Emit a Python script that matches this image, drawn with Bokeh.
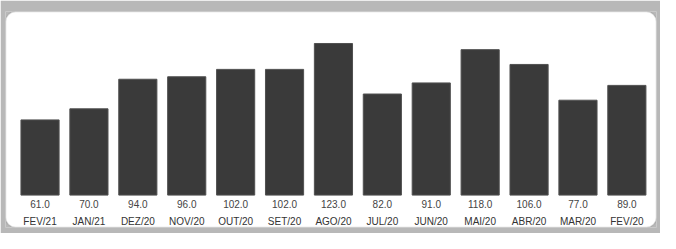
from bokeh.plotting import figure
from bokeh.models import Range1d, ColumnDataSource, BoxAnnotation
from bokeh.core.properties import value
from bokeh.embed import file_html
from bokeh.resources import INLINE

months = ["FEV/21", "JAN/21", "DEZ/20", "NOV/20", "OUT/20", "SET/20", "AGO/20",
          "JUL/20", "JUN/20", "MAI/20", "ABR/20", "MAR/20", "FEV/20"]
values = [61.0, 70.0, 94.0, 96.0, 102.0, 102.0, 123.0, 82.0, 91.0, 118.0, 106.0, 77.0, 89.0]

xs = list(range(len(months)))
src = ColumnDataSource(dict(
    x=xs, top=values, month=months,
    vlab=[f"{v:.1f}" for v in values],
    vy=[-7.6] * len(xs), my=[-21.4] * len(xs),
))

p = figure(width=660, height=233, output_backend="svg", toolbar_location=None,
           x_range=Range1d(-0.706, 12.606), y_range=Range1d(-26.29, 148.96),
           min_border_left=5, min_border_right=4, min_border_top=11, min_border_bottom=6)
p.border_fill_color = "#b8b8b8"
p.background_fill_color = "#b8b8b8"
p.outline_line_color = None
p.xaxis.visible = False
p.yaxis.visible = False
p.grid.visible = False

panel = BoxAnnotation(fill_color="white", fill_alpha=1.0, line_color="#8c8c8c",
                      line_width=1.5, border_radius=10, level="underlay")
p.add_layout(panel)

p.vbar(x="x", top="top", bottom=0, width=0.78, source=src,
       fill_color="#3a3a3a", line_color="#505050")

p.text(x="x", y="vy", text="vlab", source=src, text_align="center",
       text_baseline="middle", text_font=value("Liberation Sans"),
       text_font_size="10px", text_color="#444444")
p.text(x="x", y="my", text="month", source=src, text_align="center",
       text_baseline="middle", text_font=value("Liberation Sans"),
       text_font_size="10px", text_color="#333333")

open("out.html", "w").write(file_html(p, INLINE))
